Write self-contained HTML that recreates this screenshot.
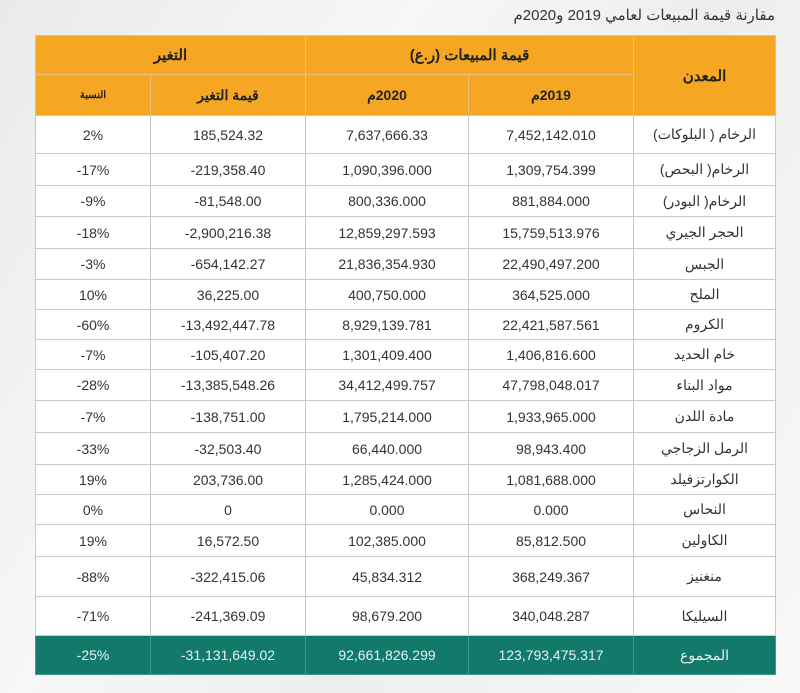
<!DOCTYPE html>
<html><head><meta charset="utf-8"><style>
body{margin:0;width:800px;height:693px;background:linear-gradient(120deg,#e9eaea 0%,#f7f7f7 35%,#eeeeee 60%,#f8f8f8 100%);font-family:"Liberation Sans","Noto Sans CJK SC",sans-serif;position:relative;overflow:hidden}
.title{position:absolute;right:25px;top:6px;font-size:15px;color:#333;direction:rtl}
table{position:absolute;left:35px;top:35px;border-collapse:collapse;direction:rtl;table-layout:fixed;width:740px}
td,th{border:1px solid #c8c8c8;text-align:center;font-size:14px;color:#333;padding:0}
tbody td:not(:first-child){direction:ltr}
th{background:#f5a623;color:#222;font-weight:bold;border-color:#e8c27a}
tbody td{background:#fff}
tr.tot td{background:#12796b;color:#e8f3f0;border-color:#3a9a8c}
</style></head><body>
<div class="title">مقارنة قيمة المبيعات لعامي 2019 و2020م</div>
<table>
<colgroup><col style="width:142px"><col style="width:165px"><col style="width:163px"><col style="width:155px"><col style="width:115px"></colgroup>
<thead>
<tr style="height:39px"><th rowspan="2" style="font-size:15px">المعدن</th><th colspan="2" style="font-size:15px">قيمة المبيعات (ر.ع)</th><th colspan="2" style="font-size:15px">التغير</th></tr>
<tr style="height:41px"><th>2019م</th><th>2020م</th><th>قيمة التغير</th><th style="font-size:10px">النسبة</th></tr>
</thead>
<tbody>
<tr style="height:38px"><td>الرخام ( البلوكات)</td><td>7,452,142.010</td><td>7,637,666.33</td><td>185,524.32</td><td>2%</td></tr>
<tr style="height:32px"><td>الرخام( البحص)</td><td>1,309,754.399</td><td>1,090,396.000</td><td>-219,358.40</td><td>-17%</td></tr>
<tr style="height:31px"><td>الرخام( البودر)</td><td>881,884.000</td><td>800,336.000</td><td>-81,548.00</td><td>-9%</td></tr>
<tr style="height:32px"><td>الحجر الجيري</td><td>15,759,513.976</td><td>12,859,297.593</td><td>-2,900,216.38</td><td>-18%</td></tr>
<tr style="height:31px"><td>الجبس</td><td>22,490,497.200</td><td>21,836,354.930</td><td>-654,142.27</td><td>-3%</td></tr>
<tr style="height:30px"><td>الملح</td><td>364,525.000</td><td>400,750.000</td><td>36,225.00</td><td>10%</td></tr>
<tr style="height:30px"><td>الكروم</td><td>22,421,587.561</td><td>8,929,139.781</td><td>-13,492,447.78</td><td>-60%</td></tr>
<tr style="height:30px"><td>خام الحديد</td><td>1,406,816.600</td><td>1,301,409.400</td><td>-105,407.20</td><td>-7%</td></tr>
<tr style="height:31px"><td>مواد البناء</td><td>47,798,048.017</td><td>34,412,499.757</td><td>-13,385,548.26</td><td>-28%</td></tr>
<tr style="height:32px"><td>مادة اللدن</td><td>1,933,965.000</td><td>1,795,214.000</td><td>-138,751.00</td><td>-7%</td></tr>
<tr style="height:32px"><td>الرمل الزجاجي</td><td>98,943.400</td><td>66,440.000</td><td>-32,503.40</td><td>-33%</td></tr>
<tr style="height:30px"><td>الكوارتزفيلد</td><td>1,081,688.000</td><td>1,285,424.000</td><td>203,736.00</td><td>19%</td></tr>
<tr style="height:30px"><td>النحاس</td><td>0.000</td><td>0.000</td><td>0</td><td>0%</td></tr>
<tr style="height:32px"><td>الكاولين</td><td>85,812.500</td><td>102,385.000</td><td>16,572.50</td><td>19%</td></tr>
<tr style="height:40px"><td>منغنيز</td><td>368,249.367</td><td>45,834.312</td><td>-322,415.06</td><td>-88%</td></tr>
<tr style="height:39px"><td>السيليكا</td><td>340,048.287</td><td>98,679.200</td><td>-241,369.09</td><td>-71%</td></tr>
<tr class="tot" style="height:39px"><td>المجموع</td><td>123,793,475.317</td><td>92,661,826.299</td><td>-31,131,649.02</td><td>-25%</td></tr>
</tbody></table>
</body></html>
